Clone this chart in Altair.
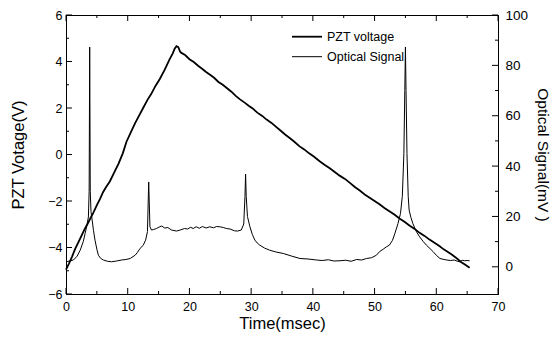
import altair as alt
import pandas as pd

# ---------------- data ----------------
pzt_time = [0.0, 0.5, 1.0, 1.5, 2.0, 2.5, 3.0, 3.5, 4.0, 4.4, 5.0, 5.5, 6.0, 6.5, 7.1,
            7.8, 8.5, 9.2, 9.8, 10.5, 11.2, 11.8, 12.5, 13.2, 13.8, 14.5, 15.2, 16.0,
            16.8, 17.3, 17.6, 17.9, 18.2, 18.5, 18.7, 19.3, 20.0, 20.7, 21.4, 22.0,
            22.7, 23.4, 24.0, 24.7, 25.4, 26.0, 26.8, 27.5, 28.2, 29.0, 29.6, 30.3,
            31.0, 31.8, 32.5, 33.3, 34.0, 34.8, 35.5, 36.3, 37.0, 37.8, 38.6, 39.4,
            40.2, 41.1, 42.0, 42.8, 43.6, 44.4, 45.2, 46.0, 46.8, 47.6, 48.4, 49.2,
            50.0, 50.8, 51.6, 52.4, 53.2, 54.1, 54.9, 55.7, 56.5, 57.3, 58.1, 58.9,
            59.7, 60.5, 61.2, 61.7, 62.5, 63.3, 64.0, 64.7, 65.4]
pzt_volt = [-4.95, -4.68, -4.38, -4.05, -3.78, -3.50, -3.22, -2.98, -2.72, -2.52, -2.18,
            -1.92, -1.62, -1.40, -1.16, -0.78, -0.40, 0.05, 0.55, 0.95, 1.35, 1.65, 2.00,
            2.35, 2.60, 2.95, 3.25, 3.65, 4.10, 4.35, 4.55, 4.66, 4.62, 4.42, 4.37, 4.28,
            4.10, 3.98, 3.82, 3.70, 3.55, 3.42, 3.30, 3.12, 3.00, 2.87, 2.70, 2.52, 2.37,
            2.22, 2.10, 1.97, 1.80, 1.66, 1.50, 1.36, 1.20, 1.02, 0.86, 0.70, 0.55, 0.36,
            0.22, 0.05, -0.10, -0.29, -0.46, -0.60, -0.76, -0.92, -1.05, -1.22, -1.40,
            -1.55, -1.72, -1.86, -2.00, -2.14, -2.30, -2.44, -2.58, -2.76, -2.90, -3.06,
            -3.20, -3.37, -3.50, -3.66, -3.80, -3.94, -4.08, -4.16, -4.30, -4.46, -4.62,
            -4.74, -4.87]

opt_time = [0.0, 0.6, 1.2, 1.8, 2.3, 2.8, 3.1, 3.4, 3.63, 3.75, 3.84, 3.93, 4.05, 4.17,
            4.45, 4.7, 5.0, 5.25, 5.6, 6.06, 6.7, 7.4, 8.2, 9.0, 9.7, 10.4, 11.2, 11.6,
            12.0, 12.5, 12.9, 13.2, 13.4, 13.6, 13.84, 14.2, 14.65, 15.1, 15.5, 16.0,
            16.5, 17.1, 17.5, 17.9, 18.5, 19.2, 19.7, 20.2, 20.6, 21.1, 21.6, 22.1, 22.7,
            23.3, 23.9, 24.4, 24.9, 25.5, 26.0, 26.6, 27.3, 27.8, 28.4, 28.8, 29.0, 29.1,
            29.2, 29.4, 29.8, 30.2, 30.6, 31.0, 31.4, 32.2, 33.0, 34.0, 35.2, 36.5, 37.9,
            39.2, 40.6, 41.5, 42.5, 43.4, 44.4, 45.3, 46.2, 47.1, 47.9, 48.7, 49.5, 50.3,
            50.8, 51.4, 51.9, 52.4, 52.9, 53.3, 53.8, 54.2, 54.5, 54.75, 54.9, 55.0, 55.1,
            55.25, 55.45, 55.6, 55.9, 56.2, 56.7, 57.3, 57.9, 58.4, 59.0, 59.5, 60.0, 60.6,
            61.1, 61.7, 62.3, 62.9, 63.4, 63.8, 64.2, 64.6, 65.0, 65.4]
opt_mv = [2.0, 2.3, 2.7, 4.2, 6.6, 10.0, 13.3, 16.5, 19.8, 30.0, 87.3, 30.0, 22.0, 19.8,
          14.5, 10.6, 7.0, 4.6, 3.4, 2.7, 2.2, 2.0, 2.3, 2.7, 2.9, 3.3, 4.6, 5.8, 7.3, 8.5,
          10.6, 14.0, 33.7, 16.0, 14.6, 14.8, 15.2, 15.8, 16.2, 15.4, 15.6, 14.6, 14.4,
          14.2, 14.6, 15.2, 15.0, 15.7, 15.2, 15.9, 15.3, 16.0, 15.4, 15.9, 15.5, 16.0,
          15.9, 15.6, 15.2, 15.0, 14.3, 14.2, 14.6, 17.0, 28.0, 36.8, 28.0, 20.0, 15.9,
          12.8, 10.6, 9.4, 8.6, 7.4, 6.6, 5.9, 5.3, 4.3, 3.3, 3.1, 2.7, 2.5, 2.8, 2.3, 2.4,
          2.6, 2.2, 2.9, 2.7, 3.3, 3.6, 4.6, 6.0, 7.0, 7.9, 8.6, 10.5, 13.3, 17.2, 21.2,
          28.0, 45.0, 70.0, 87.3, 70.0, 45.0, 28.0, 22.5, 19.5, 17.2, 14.3, 11.9, 10.0,
          8.6, 7.2, 6.0, 4.6, 3.3, 3.0, 2.7, 2.5, 2.7, 2.2, 2.0, 2.6, 2.4, 2.5, 2.4]

x_major = [0, 10, 20, 30, 40, 50, 60, 70]
x_minor = [5, 15, 25, 35, 45, 55, 65]
left_major = [-6, -4, -2, 0, 2, 4, 6]
left_minor = [-5, -3, -1, 1, 3, 5]
right_major = [0, 20, 40, 60, 80, 100]
right_minor = [10, 30, 50, 70, 90]
legend_labels = ["PZT voltage", "Optical Signal"]
x_title = "Time(msec)"
left_title = "PZT Votage(V)"
right_title = "Optical Signal(mV )"

# ---------------- layout / style ----------------
W, H = 432, 279
FONT = "Liberation Sans"
INK = "#000000"

pzt_df = pd.DataFrame({"t": pzt_time, "v": pzt_volt})
opt_df = pd.DataFrame({"t": opt_time, "mv": opt_mv})
xmaj_df = pd.DataFrame({"t": x_major})
xmin_df = pd.DataFrame({"t": x_minor})
lmaj_df = pd.DataFrame({"v": left_major})
lmin_df = pd.DataFrame({"v": left_minor})
rmaj_df = pd.DataFrame({"mv": right_major})
rmin_df = pd.DataFrame({"mv": right_minor})

x_scale = alt.Scale(domain=[0, 70], nice=False, zero=False)
yl_scale = alt.Scale(domain=[-6, 6], nice=False, zero=False)
yr_scale = alt.Scale(domain=[-10.8, 100], nice=False, zero=False)

x_axis = alt.Axis(values=x_major, title=x_title, ticks=False, tickSize=0, labelPadding=6,
                  titlePadding=3, labelFlush=False, grid=False, format="d",
                  labelFontSize=12.5, titleFontSize=16.5)
yl_axis = alt.Axis(values=left_major, title=left_title, orient="left", ticks=False,
                   tickSize=0, labelPadding=4, titlePadding=21, labelFlush=False,
                   grid=False, format="d", labelFontSize=12.5, titleFontSize=16.5)
yr_axis = alt.Axis(values=right_major, title=right_title, orient="right", ticks=False,
                   tickSize=0, labelPadding=7, titlePadding=7, labelFlush=False,
                   grid=False, format="d", labelFontSize=13.5, titleFontSize=15.5)

X = lambda: alt.X("t:Q", scale=x_scale, axis=x_axis)

pzt_line = alt.Chart(pzt_df).mark_line(color=INK, strokeWidth=1.8).encode(
    x=X(), y=alt.Y("v:Q", scale=yl_scale, axis=yl_axis))
opt_line = alt.Chart(opt_df).mark_line(color=INK, strokeWidth=1.0).encode(
    x=X(), y=alt.Y("mv:Q", scale=yr_scale, axis=yr_axis))

def xticks(df, length):
    bottom = alt.Chart(df).mark_rule(color=INK, strokeWidth=1).encode(
        x=X(), y=alt.value(H), y2=alt.value(H - length))
    top = alt.Chart(df).mark_rule(color=INK, strokeWidth=1).encode(
        x=X(), y=alt.value(0), y2=alt.value(length))
    return [bottom, top]

left_ticks = [
    alt.Chart(lmaj_df).mark_rule(color=INK).encode(
        y=alt.Y("v:Q", scale=yl_scale, axis=yl_axis), x=alt.value(0), x2=alt.value(6)),
    alt.Chart(lmin_df).mark_rule(color=INK).encode(
        y=alt.Y("v:Q", scale=yl_scale, axis=yl_axis), x=alt.value(0), x2=alt.value(3)),
]
right_ticks = [
    alt.Chart(rmaj_df).mark_rule(color=INK).encode(
        y=alt.Y("mv:Q", scale=yr_scale, axis=yr_axis), x=alt.value(W), x2=alt.value(W - 6)),
    alt.Chart(rmin_df).mark_rule(color=INK).encode(
        y=alt.Y("mv:Q", scale=yr_scale, axis=yr_axis), x=alt.value(W), x2=alt.value(W - 3)),
]

leg_y = [21.7, 41.7]
leg_widths = [1.8, 1.0]
legend = []
for i, lab in enumerate(legend_labels):
    ldf = pd.DataFrame({"label": [lab]})
    legend.append(alt.Chart(ldf).mark_rule(color=INK, strokeWidth=leg_widths[i]).encode(
        x=alt.value(226), x2=alt.value(256), y=alt.value(leg_y[i])))
    legend.append(alt.Chart(ldf).mark_text(align="left", baseline="middle", font=FONT,
                                           fontSize=12.5, color=INK).encode(
        text="label:N", x=alt.value(261), y=alt.value(leg_y[i])))

left_layer = alt.layer(*legend, *xticks(xmaj_df, 6), *xticks(xmin_df, 3), *left_ticks,
                       pzt_line)
right_layer = alt.layer(*right_ticks, opt_line)

chart = alt.layer(left_layer, right_layer).resolve_scale(y="independent").properties(
    width=W, height=H,
    autosize=alt.AutoSizeParams(type="none"),
    padding={"left": 66, "top": 15, "right": 57, "bottom": 48},
    background="white",
).configure_view(stroke=INK, strokeWidth=1).configure_axis(
    labelFont=FONT, titleFont=FONT, labelColor=INK, titleColor=INK,
    domainColor=INK, domainWidth=1, titleFontWeight="normal",
)

chart.save("out.html", embed_options={"renderer": "svg", "actions": False})
